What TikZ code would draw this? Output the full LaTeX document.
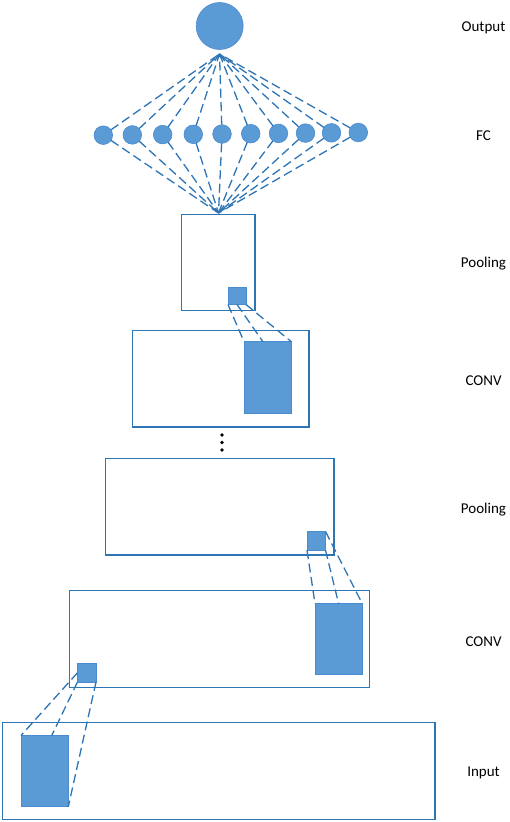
\documentclass[tikz,border=0pt]{standalone}
\usepackage{fontspec}
\setmainfont{Carlito}
\usetikzlibrary{calc}
\definecolor{lineblue}{HTML}{2E75B6}
\definecolor{fillblue}{HTML}{5B9BD5}
\definecolor{edgeblue}{HTML}{4A8CD0}
\begin{document}
\begin{tikzpicture}[x=1pt,y=-1pt,
 frame/.style={draw=lineblue, line width=1.7pt, inner sep=0pt, outer sep=0pt, anchor=north west, rectangle},
 patch/.style={fill=fillblue, draw=edgeblue, line width=0.6pt, inner sep=0pt, outer sep=0pt, anchor=north west, rectangle},
 neuron/.style={circle, fill=fillblue, draw=edgeblue, line width=0.6pt, inner sep=0pt, outer sep=0pt},
 link/.style={draw=lineblue, line width=1.3pt, dash pattern=on 9pt off 4.5pt},
 lbl/.style={font=\fontsize{15}{18}\selectfont, anchor=base, text=black, inner sep=0pt},
 dotn/.style={circle, fill=black, inner sep=0pt, minimum size=3.8pt}]
\fill[white] (0,0) rectangle (510,822);
\useasboundingbox (0,0) rectangle (510,822);

% output neuron
\node[neuron, minimum size=47pt] (out) at (219.7,26) {};
\coordinate (hub1) at (219.5,54);
\coordinate (hub2) at (218.5,213);

% fully connected layer
\foreach \i/\x/\y in {1/103.3/135.2, 2/132.3/134.9, 3/162.7/134.6, 4/193.3/134.3, 5/222/134, 6/250.7/133.7, 7/278.5/133.4, 8/305.5/133.1, 9/331.5/132.8, 10/358.3/132.5}{
  \node[neuron, minimum size=18.6pt] (fc\i) at (\x,\y) {};
}
\foreach \i in {1,...,10}{
  \draw[link] (fc\i) -- (hub1);
  \draw[link] (fc\i) -- (hub2);
}

% pooling 1
\node[frame, minimum width=73.5pt, minimum height=96pt] (pool1) at (181.5,214.5) {};
\node[patch, minimum width=18pt, minimum height=17.5pt] (ps1) at (228,287) {};
% conv 1
\node[frame, minimum width=176.5pt, minimum height=96.5pt] (conv1) at (132.5,330.5) {};
\node[patch, minimum width=47.3pt, minimum height=71.6pt] (cf1) at (244,341.7) {};
\draw[link] (ps1.south west) -- (cf1.north west);
\draw[link] (ps1.south) -- ($(cf1.north west)!0.4!(cf1.north east)$);
\draw[link] (ps1.south east) -- (cf1.north east);

% dots
\node[dotn] (d1) at (222,435) {};
\node[dotn] (d2) at (222,442.5) {};
\node[dotn] (d3) at (222,450) {};

% pooling 2
\node[frame, minimum width=228.5pt, minimum height=96.5pt] (pool2) at (105.5,458.5) {};
\node[patch, minimum width=18.5pt, minimum height=18.7pt] (ps2) at (307,531.5) {};
% conv 2
\node[frame, minimum width=300pt, minimum height=97pt] (conv2) at (69.5,590.5) {};
\node[patch, minimum width=47.3pt, minimum height=70.7pt] (cf2) at (315,603.7) {};
\node[patch, minimum width=18.5pt, minimum height=18.5pt] (cs2) at (77.5,663.5) {};
\draw[link] (ps2.south west) -- (cf2.north west);
\draw[link] (ps2.south east) -- (cf2.north);
\draw[link] (ps2.north east) -- (cf2.north east);

% input
\node[frame, minimum width=432.5pt, minimum height=97pt] (inp) at (2.5,722.5) {};
\node[patch, minimum width=47.3pt, minimum height=71.2pt] (inf) at (21,735.5) {};
\draw[link] (cs2.west) -- (inf.north west);
\draw[link] (cs2.south west) -- ($(inf.north west)!0.65!(inf.north east)$);
\draw[link] (cs2.south east) -- (inf.south east);

% labels
\node[lbl] (lout) at (483.5,31.5) {Output};
\node[lbl] (lfc) at (483.5,140.5) {FC};
\node[lbl] (lp1) at (483.5,267.5) {Pooling};
\node[lbl] (lc1) at (483.5,385) {CONV};
\node[lbl] (lp2) at (483.5,513.5) {Pooling};
\node[lbl] (lc2) at (483.5,646) {CONV};
\node[lbl] (lin) at (483.5,776) {Input};
\end{tikzpicture}
\end{document}
